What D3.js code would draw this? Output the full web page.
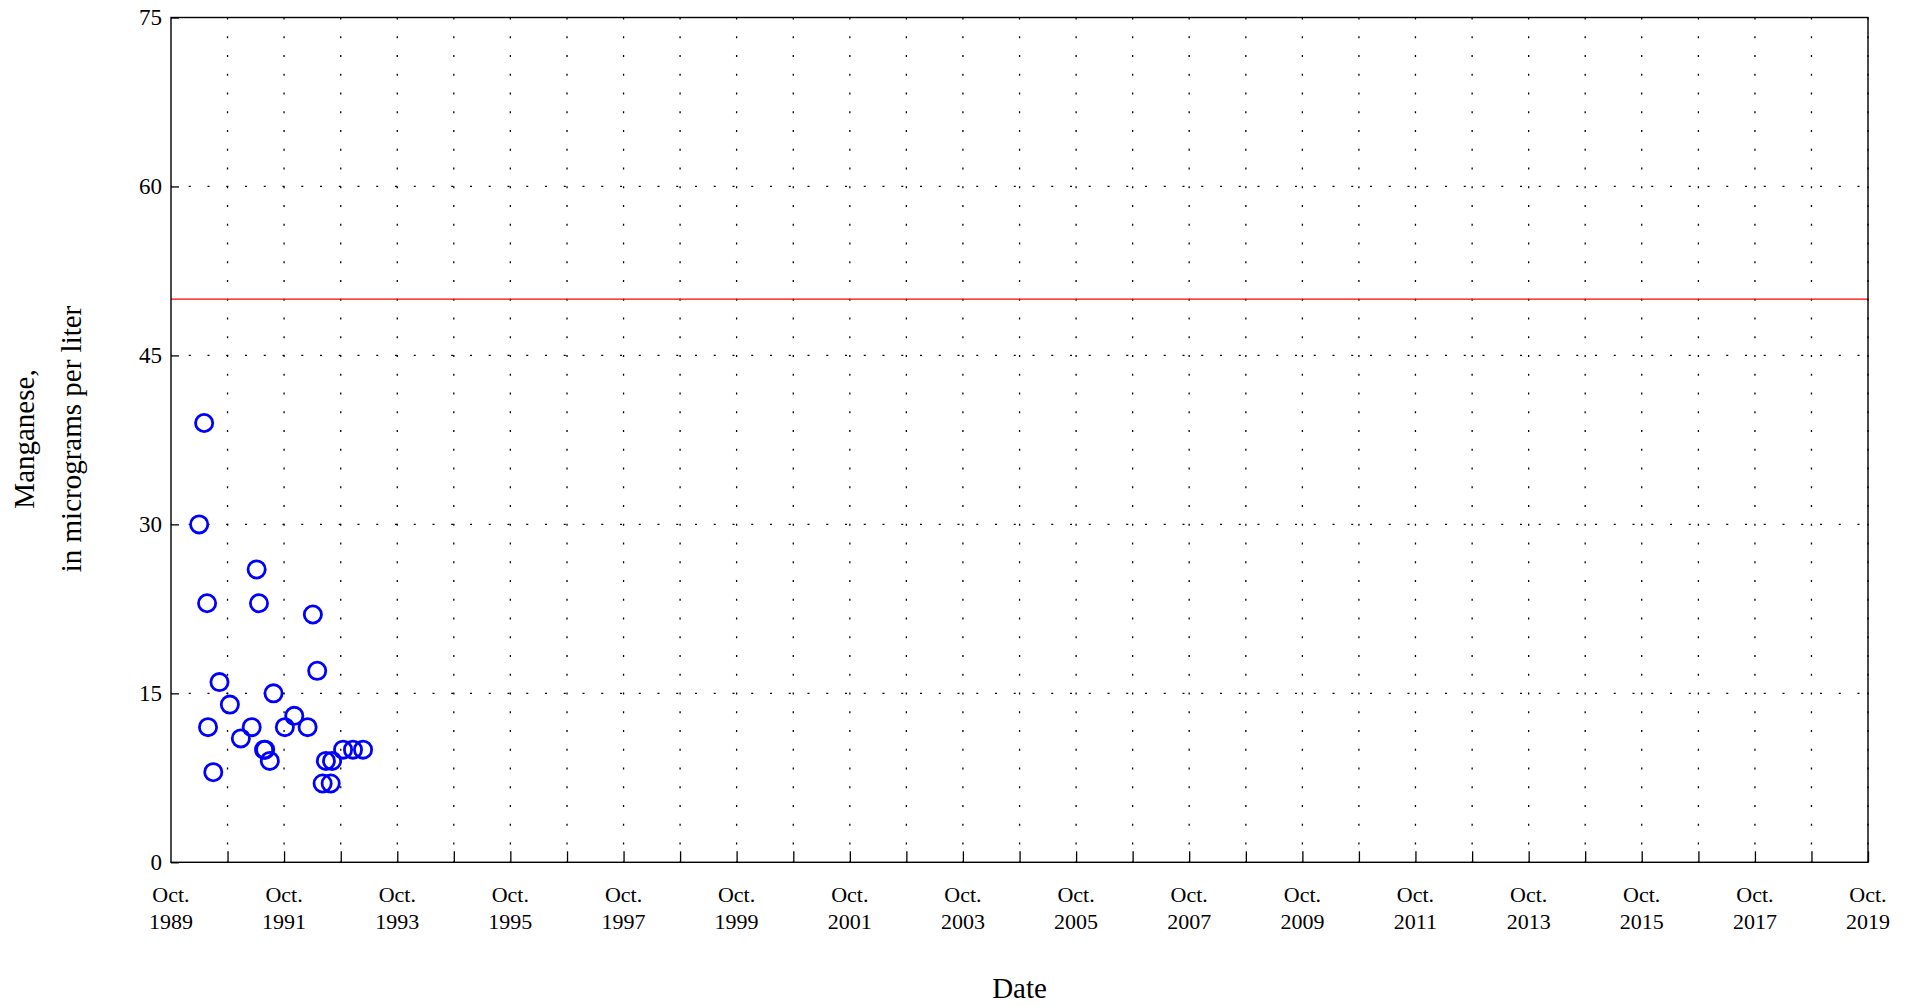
<!DOCTYPE html>
<html>
<head>
<meta charset="utf-8">
<script src="https://cdn.jsdelivr.net/npm/d3@7"></script>
<style>
  html, body { margin: 0; padding: 0; background: #fff; }
  svg { display: block; }
  text { font-family: "Liberation Serif", "Times New Roman", serif; fill: #000; }
</style>
</head>
<body>
<svg id="chart" width="1913" height="1006"></svg>
<script>
// ---- data ----
const sampleDates = [
  "1990-05-03", "1990-04-01", "1991-04-07", "1990-05-22", "1991-04-22",
  "1992-04-04", "1992-05-02", "1990-08-10", "1991-07-25", "1990-10-16",
  "1991-12-06", "1990-05-28", "1991-03-06", "1991-10-06", "1992-03-01",
  "1990-12-26", "1992-10-16", "1992-12-19", "1993-02-22", "1992-06-27",
  "1992-08-06", "1992-06-06", "1992-07-28", "1991-05-25", "1991-06-01",
  "1991-07-01", "1990-07-01"
];
const manganeseValues = [
  39, 30, 26, 23, 23,
  22, 17, 16, 15, 14,
  13, 12, 12, 12, 12,
  11, 10, 10, 10, 9,
  9, 7, 7, 10, 10,
  9, 8
];
const referenceLevel = 50;
const yTicks = [0, 15, 30, 45, 60, 75];
const xDomain = ["1989-10-01", "2019-10-01"];
const xLabelYears = [1989, 1991, 1993, 1995, 1997, 1999, 2001, 2003, 2005, 2007, 2009, 2011, 2013, 2015, 2017, 2019];
const yTitleLines = ["Manganese,", "in micrograms per liter"];
const xTitle = "Date";

// ---- layout ----
const L = 171, R = 1868, T = 17.5, B = 862.3;
const parse = d3.utcParse("%Y-%m-%d");
const svg = d3.select("#chart");

const x = d3.scaleUtc().domain(xDomain.map(parse)).range([L, R]);
const y = d3.scaleLinear().domain([0, 75]).range([B, T]);

const yearTicks = d3.utcYears(parse("1989-10-01"), parse("2019-10-02"))
  .map(d => new Date(Date.UTC(d.getUTCFullYear(), 9, 1)))
  .filter(d => d >= parse(xDomain[0]) && d <= parse(xDomain[1]));

const period = 18.75;
const dash = `2,${period - 2}`;

// dotted vertical grid (drawn bottom -> top)
svg.append("g").selectAll("line").data(yearTicks).join("line")
  .attr("x1", d => x(d)).attr("x2", d => x(d))
  .attr("y1", B).attr("y2", T)
  .attr("stroke", "#000").attr("stroke-width", 1.3)
  .attr("stroke-dasharray", dash).attr("stroke-dashoffset", 1);

// dotted horizontal grid (drawn left -> right)
svg.append("g").selectAll("line").data(yTicks.filter(v => v > 0 && v < 75)).join("line")
  .attr("x1", L).attr("x2", R)
  .attr("y1", d => y(d)).attr("y2", d => y(d))
  .attr("stroke", "#000").attr("stroke-width", 1.3)
  .attr("stroke-dasharray", dash).attr("stroke-dashoffset", 1);

// reference line
svg.append("line")
  .attr("x1", L).attr("x2", R)
  .attr("y1", y(referenceLevel)).attr("y2", y(referenceLevel))
  .attr("stroke", "#ff0000").attr("stroke-width", 1.2);

// bottom axis (ticks inward)
const xAxis = d3.axisBottom(x).tickValues(yearTicks).tickSize(-11).tickFormat("");
const gx = svg.append("g").attr("transform", `translate(0,${B})`).call(xAxis);
gx.select(".domain").remove();
gx.selectAll(".tick line").attr("stroke", "#000").attr("stroke-width", 1.3);

// x tick labels
const labelDates = xLabelYears.map(yr => new Date(Date.UTC(yr, 9, 1)));
const xl = svg.append("g").selectAll("text").data(labelDates).join("text")
  .attr("x", d => x(d)).attr("text-anchor", "middle")
  .style("font-size", "22px");
xl.append("tspan").attr("x", d => x(d)).attr("y", 902).text("Oct.");
xl.append("tspan").attr("x", d => x(d)).attr("y", 929).text(d => d.getUTCFullYear());

// left axis
const yAxis = d3.axisLeft(y).tickValues(yTicks).tickSize(-8).tickPadding(9).tickFormat(d3.format("d"));
const gy = svg.append("g").attr("transform", `translate(${L},0)`).call(yAxis);
gy.select(".domain").remove();
gy.selectAll(".tick line").attr("stroke", "#000").attr("stroke-width", 1.3);
gy.selectAll(".tick text")
  .style("font-family", "'Liberation Serif', 'Times New Roman', serif")
  .style("font-size", "23px").attr("fill", "#000");

// frame
svg.append("rect")
  .attr("x", L).attr("y", T).attr("width", R - L).attr("height", B - T)
  .attr("fill", "none").attr("stroke", "#000").attr("stroke-width", 1.4);

// data points
const points = sampleDates.map((d, i) => ({ date: parse(d), value: manganeseValues[i] }));
svg.append("g").selectAll("circle").data(points).join("circle")
  .attr("cx", d => x(d.date)).attr("cy", d => y(d.value))
  .attr("r", 8.6)
  .attr("fill", "none").attr("stroke", "#0000ff").attr("stroke-width", 2.8);

// titles
svg.append("text")
  .attr("x", (L + R) / 2).attr("y", 998)
  .attr("text-anchor", "middle").style("font-size", "29px")
  .text(xTitle);

const yt = svg.append("text")
  .attr("transform", "translate(0,439) rotate(-90)")
  .attr("text-anchor", "middle").style("font-size", "29px");
yt.append("tspan").attr("x", 0).attr("y", 34).text(yTitleLines[0]);
yt.append("tspan").attr("x", 0).attr("y", 81).text(yTitleLines[1]);
</script>
</body>
</html>
